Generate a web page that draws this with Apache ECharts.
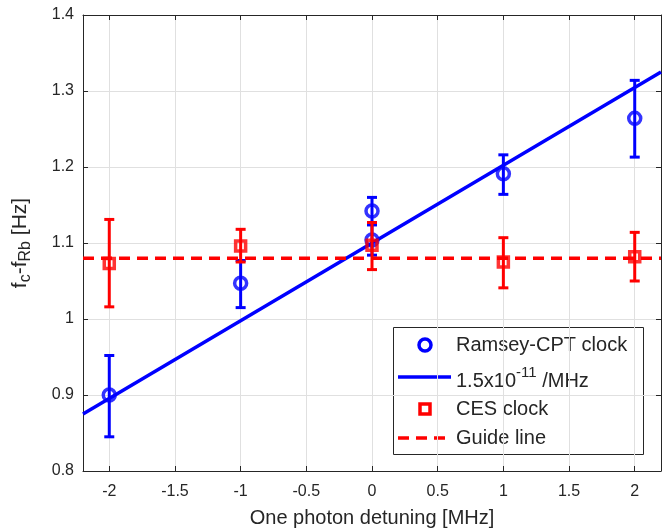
<!DOCTYPE html>
<html lang="en">
<head>
<meta charset="UTF-8">
<title>Ramsey-CPT vs CES clock</title>
<script src="https://cdn.jsdelivr.net/npm/echarts@6/dist/echarts.min.js"></script>
<style>
html, body { margin: 0; padding: 0; background: #fff; }
#chart { width: 672px; height: 529px; }
</style>
</head>
<body>
<div id="chart"></div>
<script>
// tick labels
const xTicks = [-2, -1.5, -1, -0.5, 0, 0.5, 1, 1.5, 2];

// Ramsey-CPT clock (blue circles)
const ramseyX = [-2, -1, 0, 0, 1, 2];
const ramseyY = [0.900, 1.047, 1.142, 1.104, 1.191, 1.264];
const ramseyLow = [0.845, 1.015, 1.124, 1.084, 1.164, 1.213];
const ramseyHigh = [0.952, 1.077, 1.160, 1.124, 1.216, 1.314];

// linear fit, 1.5x10^-11 /MHz
const fitX = [-2.2, 2.2];
const fitY = [0.875, 1.325];

// CES clock (red squares)
const cesX = [-2, -1, 0, 1, 2];
const cesY = [1.073, 1.096, 1.097, 1.075, 1.082];
const cesLow = [1.016, 1.075, 1.065, 1.041, 1.050];
const cesHigh = [1.131, 1.118, 1.127, 1.107, 1.114];

// guide line
const guideX = [-2.2, 2.2];
const guideY = [1.08, 1.08];

const axisColor = '#262626';
const font = 'Liberation Sans, Arial, sans-serif';
const blue = '#0000ff';
const red = '#ff0000';

function errorBar(color) {
  return function (params, api) {
    const x = api.value(0);
    const lo = api.coord([x, api.value(1)]);
    const hi = api.coord([x, api.value(2)]);
    const w = 5;
    const style = { stroke: color, lineWidth: 3 };
    return {
      type: 'group',
      children: [
        { type: 'line', shape: { x1: lo[0], y1: lo[1], x2: hi[0], y2: hi[1] }, style: style },
        { type: 'line', shape: { x1: lo[0] - w, y1: lo[1], x2: lo[0] + w, y2: lo[1] }, style: style },
        { type: 'line', shape: { x1: hi[0] - w, y1: hi[1], x2: hi[0] + w, y2: hi[1] }, style: style }
      ]
    };
  };
}

const chart = echarts.init(document.getElementById('chart'));

const xBase = {
  type: 'value', min: -2.2, max: 2.2,
  axisLine: { show: true, onZero: false, lineStyle: { color: axisColor, width: 1 } },
  axisTick: { show: true, inside: true, length: 5, customValues: xTicks, lineStyle: { color: axisColor } }
};
const yBase = {
  type: 'value', min: 0.8, max: 1.4, interval: 0.1,
  axisLine: { show: true, onZero: false, lineStyle: { color: axisColor, width: 1 } },
  axisTick: { show: true, inside: true, length: 5, lineStyle: { color: axisColor } }
};

const option = {
  animation: false,
  grid: { left: 83, right: 11, top: 15, bottom: 58, outerBoundsMode: 'none', containLabel: false },
  xAxis: [
    Object.assign({}, xBase, {
      position: 'bottom',
      axisLabel: { customValues: xTicks, fontSize: 16, fontFamily: font, color: axisColor, margin: 13 },
      splitLine: { show: true, lineStyle: { color: '#e0e0e0', width: 1 } },
      name: 'One photon detuning [MHz]',
      nameLocation: 'middle',
      nameGap: 37,
      nameTextStyle: { fontSize: 20, fontFamily: font, color: axisColor }
    }),
    Object.assign({}, xBase, {
      position: 'top',
      axisLabel: { show: false },
      splitLine: { show: false }
    })
  ],
  yAxis: [
    Object.assign({}, yBase, {
      position: 'left',
      axisLabel: { fontSize: 16, fontFamily: font, color: axisColor, margin: 9 },
      splitLine: { show: true, lineStyle: { color: '#e0e0e0', width: 1 } },
      name: '{a|f}{s|c}{a|-f}{s|Rb}{a| [Hz]}',
      nameLocation: 'middle',
      nameGap: 49,
      nameTextStyle: {
        fontSize: 21, fontFamily: font, color: axisColor,
        rich: {
          a: { fontSize: 21, fontFamily: font, color: axisColor },
          s: { fontSize: 16, fontFamily: font, color: axisColor, padding: [12, 0, 0, 0] }
        }
      }
    }),
    Object.assign({}, yBase, {
      position: 'right',
      axisLabel: { show: false },
      splitLine: { show: false }
    })
  ],
  series: [
    {
      type: 'custom', name: 'Ramsey error',
      renderItem: errorBar(blue),
      encode: { x: 0, y: [1, 2] },
      data: ramseyX.map((x, i) => [x, ramseyLow[i], ramseyHigh[i]]),
      z: 2
    },
    {
      type: 'scatter', name: 'Ramsey-CPT clock',
      symbol: 'circle', symbolSize: 12,
      itemStyle: { color: 'rgba(0,0,0,0)', borderColor: blue, borderWidth: 3.5 },
      data: ramseyX.map((x, i) => [x, ramseyY[i]]),
      z: 3
    },
    {
      type: 'line', name: '1.5x10-11 /MHz',
      symbol: 'none',
      lineStyle: { color: blue, width: 3.5 },
      data: fitX.map((x, i) => [x, fitY[i]]),
      z: 4
    },
    {
      type: 'custom', name: 'CES error',
      renderItem: errorBar(red),
      encode: { x: 0, y: [1, 2] },
      data: cesX.map((x, i) => [x, cesLow[i], cesHigh[i]]),
      z: 5
    },
    {
      type: 'scatter', name: 'CES clock',
      symbol: 'rect', symbolSize: 10,
      itemStyle: { color: 'rgba(0,0,0,0)', borderColor: red, borderWidth: 3.5 },
      data: cesX.map((x, i) => [x, cesY[i]]),
      z: 6
    },
    {
      type: 'line', name: 'Guide line',
      symbol: 'none',
      lineStyle: { color: red, width: 3.5, type: [11, 7] },
      data: guideX.map((x, i) => [x, guideY[i]]),
      z: 7
    }
  ],
  graphic: [
    {
      type: 'group', z: 100,
      children: [
        { type: 'rect', shape: { x: 393.5, y: 327.5, width: 250, height: 127 },
          style: { fill: '#fff', stroke: axisColor, lineWidth: 1 } },
        { type: 'circle', shape: { cx: 425, cy: 345, r: 6 },
          style: { fill: 'none', stroke: blue, lineWidth: 3.5 } },
        { type: 'line', shape: { x1: 398, y1: 377, x2: 451, y2: 377 },
          style: { stroke: blue, lineWidth: 3.5 } },
        { type: 'rect', shape: { x: 420, y: 404, width: 10, height: 10 },
          style: { fill: 'none', stroke: red, lineWidth: 3.5 } },
        { type: 'line', shape: { x1: 398, y1: 438, x2: 451, y2: 438 },
          style: { stroke: red, lineWidth: 3.5, lineDash: [11, 7] } },
        { type: 'text', style: { text: 'Ramsey-CPT clock', x: 456, y: 345, verticalAlign: 'middle',
          font: '20px ' + font, fill: axisColor } },
        { type: 'text', style: { text: '{a|1.5x10}{p|-11}{a| /MHz}', x: 456, y: 378, verticalAlign: 'middle',
          font: '20px ' + font, fill: axisColor,
          rich: {
            a: { fontSize: 20, fontFamily: font, fill: axisColor, padding: [6, 0, 0, 0] },
            p: { fontSize: 15, fontFamily: font, fill: axisColor, padding: [0, 0, 10, 0] }
          } } },
        { type: 'text', style: { text: 'CES clock', x: 456, y: 409, verticalAlign: 'middle',
          font: '20px ' + font, fill: axisColor } },
        { type: 'text', style: { text: 'Guide line', x: 456, y: 438, verticalAlign: 'middle',
          font: '20px ' + font, fill: axisColor } }
      ]
    }
  ]
};

chart.setOption(option);
</script>
</body>
</html>
